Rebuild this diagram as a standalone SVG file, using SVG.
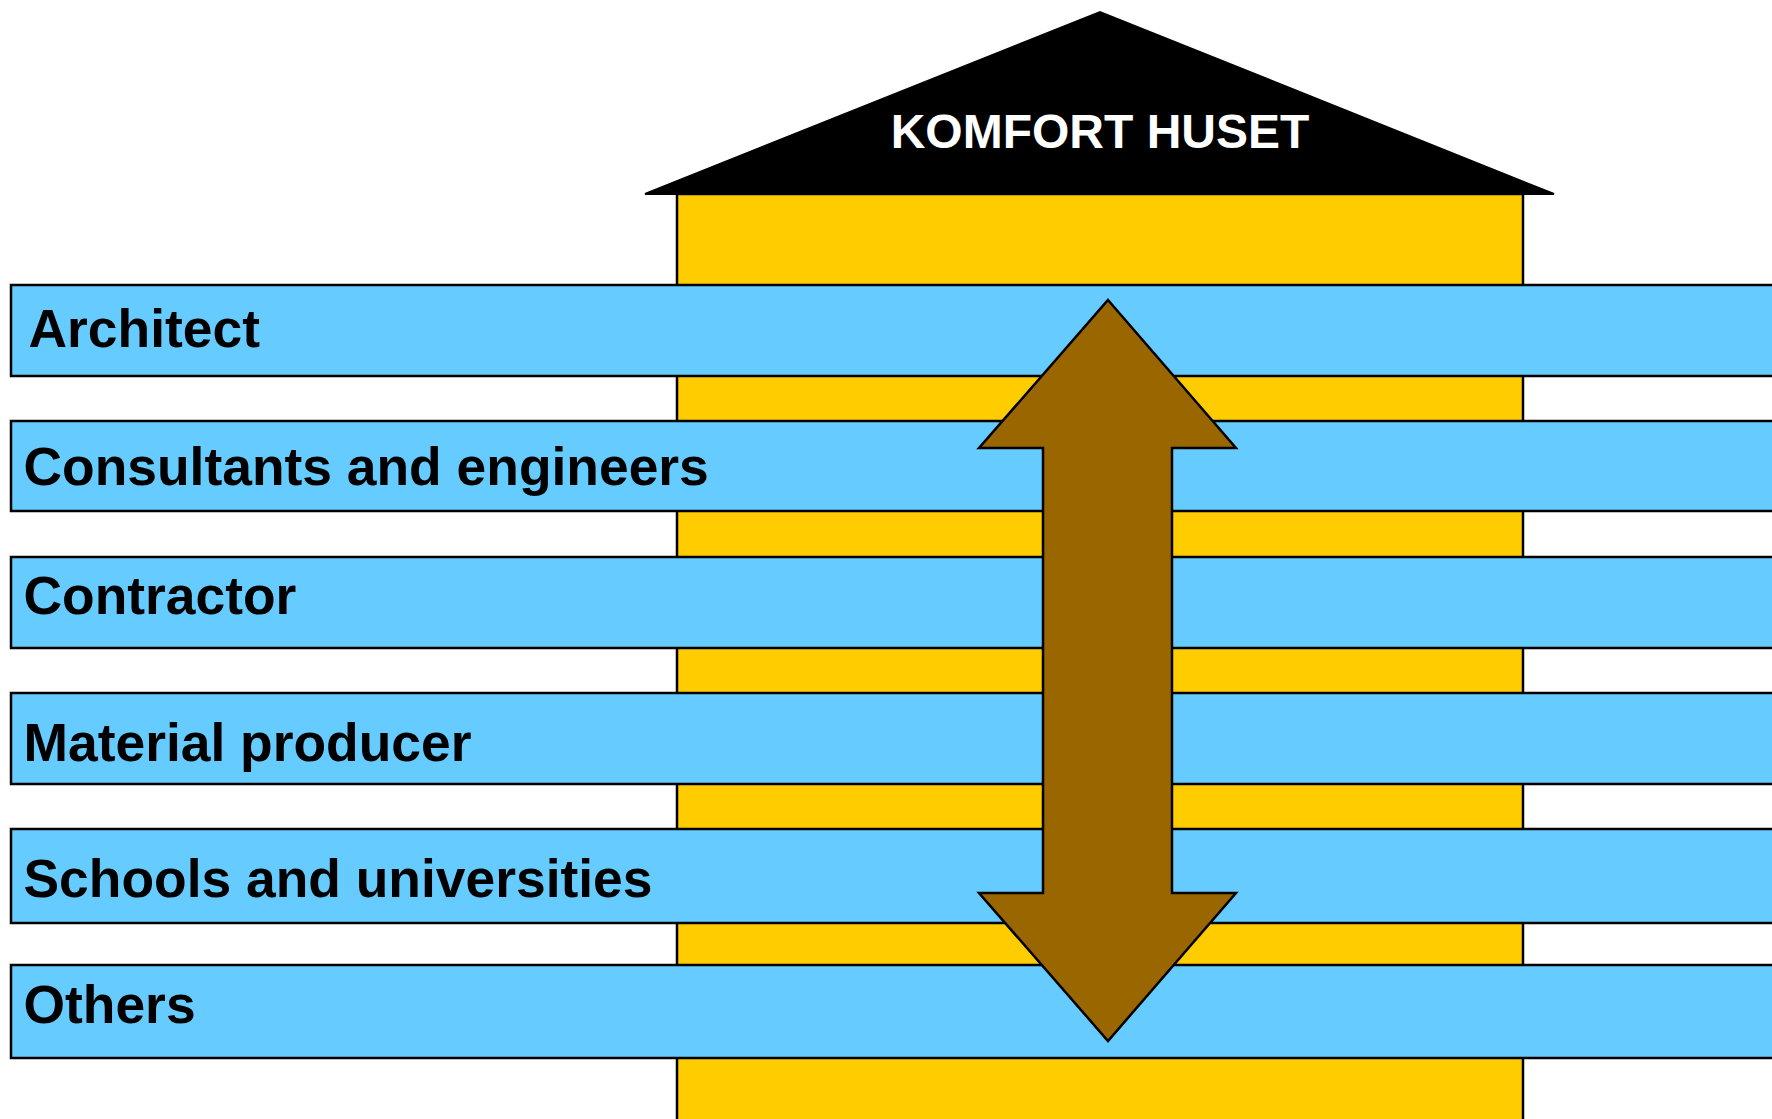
<svg xmlns="http://www.w3.org/2000/svg" width="1772" height="1119" viewBox="0 0 1772 1119">
<style>
.bar{fill:#66CCFF;stroke:#000;stroke-width:2.5}
.lbl{font-family:"Liberation Sans",Arial,sans-serif;font-weight:bold;font-size:53.4px;fill:#000}
.title{font-family:"Liberation Sans",Arial,sans-serif;font-weight:bold;font-size:48px;fill:#fff}
</style>
<rect width="1772" height="1119" fill="#fff"/>
<g id="house">
<rect x="677" y="194" width="846" height="940" fill="#FFCC00" stroke="#000" stroke-width="2.5"/>
<polygon points="645,194 1100,12 1554,194" fill="#000" stroke="#000" stroke-width="2"/>
<text class="title" x="1100" y="148" text-anchor="middle">KOMFORT HUSET</text>
</g>
<g id="architect">
<rect class="bar" x="11" y="285" width="1780" height="91"/>
<text class="lbl" x="28.5" y="347">Architect</text>
</g>
<g id="consultants">
<rect class="bar" x="11" y="421" width="1780" height="90"/>
<text class="lbl" x="23.5" y="485">Consultants and engineers</text>
</g>
<g id="contractor">
<rect class="bar" x="11" y="557" width="1780" height="91"/>
<text class="lbl" x="23.5" y="614">Contractor</text>
</g>
<g id="material">
<rect class="bar" x="11" y="693" width="1780" height="91"/>
<text class="lbl" x="23.5" y="761">Material producer</text>
</g>
<g id="schools">
<rect class="bar" x="11" y="829" width="1780" height="94"/>
<text class="lbl" x="23.5" y="897">Schools and universities</text>
</g>
<g id="others">
<rect class="bar" x="11" y="965" width="1780" height="93"/>
<text class="lbl" x="23.5" y="1023">Others</text>
</g>
<g id="connectors">
<polygon points="1108,300 1236,448 1172,448 1172,893 1236,893 1108,1041 979,893 1043,893 1043,448 979,448" fill="#996600" stroke="#000" stroke-width="2.5" stroke-linejoin="miter"/>
</g>
</svg>
